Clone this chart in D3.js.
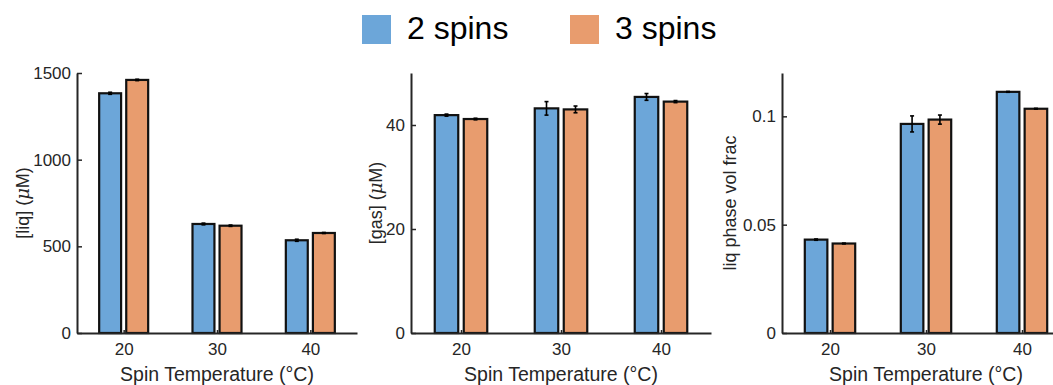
<!DOCTYPE html>
<html>
<head>
<meta charset="utf-8">
<script src="https://cdn.jsdelivr.net/npm/d3@7"></script>
<style>
  body { margin: 0; background: #fff; }
  svg { font-family: "Liberation Sans", Arial, sans-serif; }
</style>
</head>
<body>
<svg id="chart" width="1053" height="385"></svg>
<script>
// data
var temps = [20, 30, 40];
var series = ["2 spins", "3 spins"];
var colors = ["#6ca6d9", "#e89c6e"];

var liq2 = [1383, 629, 535];
var liq3 = [1460, 619, 577];
var liqErr2 = [6, 5, 6];
var liqErr3 = [4, 4, 3];

var gas2 = [41.9, 43.2, 45.4];
var gas3 = [41.15, 43.0, 44.5];
var gasErr2 = [0.2, 1.3, 0.65];
var gasErr3 = [0.15, 0.65, 0.2];

var frac2 = [0.0431, 0.0965, 0.1113];
var frac3 = [0.0413, 0.0985, 0.1035];
var fracErr2 = [0.0003, 0.0037, 0.0002];
var fracErr3 = [0.0002, 0.0021, 0.0002];

var liqTicks = [0, 500, 1000, 1500];
var gasTicks = [0, 20, 40];
var fracTicks = [0, 0.05, 0.1];

var panels = [
  {x0: 77, x1: 357, ymax: 1500, ticks: liqTicks, fmt: d3.format("d"), vals: [liq2, liq3], errs: [liqErr2, liqErr3], label: ["[liq] (", "\u03bc", "M)"], labx: 23},
  {x0: 411, x1: 711, ymax: 50, ticks: gasTicks, fmt: d3.format("d"), vals: [gas2, gas3], errs: [gasErr2, gasErr3], label: ["[gas] (", "\u03bc", "M)"], labx: 376},
  {x0: 782, x1: 1070, ymax: 0.12, ticks: fracTicks, fmt: function(d){ return d === 0 ? "0" : String(d); }, vals: [frac2, frac3], errs: [fracErr2, fracErr3], label: ["liq phase vol frac"], labx: 730}
];

var svg = d3.select("#chart");
var yTop = 73, yBot = 333;
var ink = "#262626";
var barW = 2.35, off = 1.45;

panels.forEach(function(p){
  var x = d3.scaleLinear().domain([15, 45]).range([p.x0, p.x1]);
  var y = d3.scaleLinear().domain([0, p.ymax]).range([yBot, yTop]);
  var g = svg.append("g");

  // bars
  p.vals.forEach(function(vals, si){
    var sgn = si === 0 ? -1 : 1;
    g.selectAll(".bar" + si).data(temps).enter().append("rect")
      .attr("x", function(d){ return x(d + sgn * off - barW / 2); })
      .attr("width", function(){ return x(15 + barW) - x(15); })
      .attr("y", function(d, i){ return y(vals[i]); })
      .attr("height", function(d, i){ return yBot - y(vals[i]); })
      .attr("fill", colors[si])
      .attr("stroke", "#111")
      .attr("stroke-width", 2.2);

    // error bars
    var errs = p.errs[si];
    temps.forEach(function(t, i){
      var cx = x(t + sgn * off);
      var lo = y(vals[i] - errs[i]), hi = y(vals[i] + errs[i]);
      g.append("line").attr("x1", cx).attr("x2", cx).attr("y1", lo).attr("y2", hi)
        .attr("stroke", "#000").attr("stroke-width", 1.6);
      [lo, hi].forEach(function(yy){
        g.append("line").attr("x1", cx - 2).attr("x2", cx + 2).attr("y1", yy).attr("y2", yy)
          .attr("stroke", "#000").attr("stroke-width", 1.6);
      });
    });
  });

  // axes
  var xa = g.append("g").attr("transform", "translate(0," + yBot + ")")
    .call(d3.axisBottom(x).tickValues(temps).tickSize(-3).tickPadding(10).tickSizeOuter(0));
  var ya = g.append("g").attr("transform", "translate(" + p.x0 + ",0)")
    .call(d3.axisLeft(y).tickValues(p.ticks).tickFormat(p.fmt).tickSize(-5).tickPadding(6).tickSizeOuter(0));
  [xa, ya].forEach(function(a){
    a.select(".domain").attr("stroke", ink).attr("stroke-width", 2);
    a.selectAll(".tick line").attr("stroke", ink).attr("stroke-width", 1.5);
    a.selectAll("text").attr("fill", ink).style("font-size", "17px");
  });

  g.append("text")
    .attr("x", x(30))
    .attr("y", 381)
    .attr("text-anchor", "middle")
    .attr("fill", ink)
    .style("font-size", "19.5px")
    .text("Spin Temperature (\u00b0C)");

  var yl = g.append("text")
    .attr("transform", "translate(" + p.labx + "," + ((yTop + yBot) / 2) + ") rotate(-90)")
    .attr("text-anchor", "middle")
    .attr("dy", "0.35em")
    .attr("fill", ink)
    .style("font-size", "18px");
  p.label.forEach(function(s, k){
    var ts = yl.append("tspan").text(s);
    if (k === 1) ts.style("font-style", "italic").style("font-family", "'DejaVu Serif', serif");
  });
});

// legend
var legX = [362, 570];
series.forEach(function(s, i){
  svg.append("rect").attr("x", legX[i]).attr("y", 15).attr("width", 29).attr("height", 29).attr("fill", colors[i]);
  svg.append("text").attr("x", legX[i] + 45).attr("y", 39)
    .style("font-size", "32px").attr("fill", "#000").text(s);
});
</script>
</body>
</html>
